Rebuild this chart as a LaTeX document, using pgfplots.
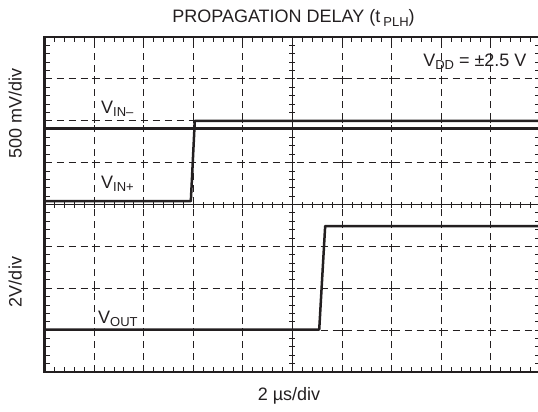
\documentclass[border=0pt]{standalone}
\usepackage{pgfplots}
\pgfplotsset{compat=1.18}
\usepackage{fontspec}
\setmainfont{Liberation Sans}
\definecolor{ink}{HTML}{231F20}
\newcommand{\sub}[1]{\raisebox{-3.5bp}{\fontsize{13bp}{15bp}\selectfont #1}}
\begin{document}
\begin{tikzpicture}[x=1bp,y=1bp,every node/.style={font=\fontsize{18bp}{21bp}\selectfont,text=ink,inner sep=0pt}]
% graticule centre lines with fine ticks (drawn first, traces on top)
\def\sx{49.57}\def\sy{41.875}
\draw[ink,line width=1bp] (0,{4*\sy}) -- ({10*\sx},{4*\sy});
\draw[ink,line width=1bp] ({5*\sx},0) -- ({5*\sx},{8*\sy});
\foreach \i in {1,...,49} \draw[ink,line width=0.8bp] ({\i*\sx/5},{4*\sy-3}) -- ++(0,6);
\foreach \i in {1,...,39} \draw[ink,line width=0.8bp] ({5*\sx-3},{\i*\sy/5}) -- ++(6,0);
\foreach \i in {1,...,9}{\foreach \j in {1,...,7}{
  \draw[ink,line width=0.8bp] ({\i*\sx-2.5},{\j*\sy}) -- ++(5,0);
  \draw[ink,line width=0.8bp] ({\i*\sx},{\j*\sy-2.5}) -- ++(0,5);}}
\begin{axis}[
  at={(0,0)}, anchor=south west,
  scale only axis, width=495.7bp, height=335bp,
  xmin=0, xmax=10, ymin=0, ymax=8,
  xtick={0,...,10}, ytick={0,...,8},
  xticklabels={}, yticklabels={},
  minor x tick num=4, minor y tick num=4,
  tick pos=both, tick align=inside,
  major tick length=5bp, minor tick length=5bp,
  every tick/.style={ink, line width=0.9bp},
  axis line style={ink, line width=2.8bp},
  grid=major,
  major grid style={ink, line width=1bp, dash pattern=on 7bp off 5bp},
]
\addplot[ink, line width=2.3bp] coordinates {(0,5.815) (10,5.815)};
\addplot[ink, line width=2.5bp, line join=round] coordinates {(0,4.08) (2.95,4.08) (3.03,6.0) (10,6.0)};
\addplot[ink, line width=2.5bp, line join=round] coordinates {(0,1.015) (5.54,1.015) (5.66,3.485) (10,3.485)};
\end{axis}
% texts
\node[anchor=base] at (248.9,349.3) {PROPAGATION DELAY (t\,\sub{PLH})};
\node[anchor=base] at (244.4,-28) {2 µs/div};
\node[anchor=base,rotate=90] at (-23.1,259) {500 mV/div};
\node[anchor=base,rotate=90] at (-23.1,90) {2V/div};
\node[anchor=base west] at (56.4,259) {V\sub{IN–}};
\node[anchor=base west] at (56.4,184) {V\sub{IN+}};
\node[anchor=base west] at (53.4,49) {V\sub{OUT}};
\node[anchor=base east] at (482.1,306) {V\sub{DD} = ±2.5 V};
\pgfresetboundingbox
\path[use as bounding box] (-44.6,-39) rectangle (493.4,372);
\end{tikzpicture}
\end{document}
